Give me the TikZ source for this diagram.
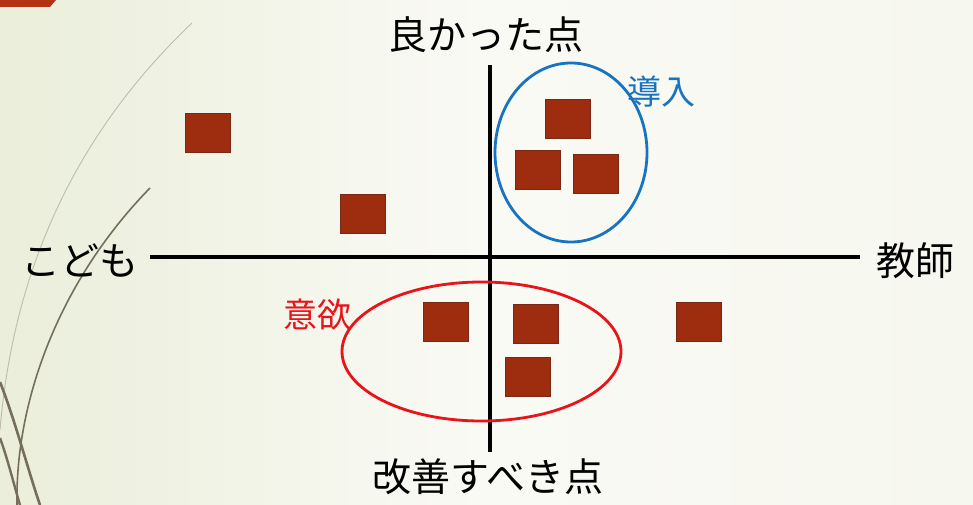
\documentclass[tikz,border=0pt]{standalone}
\usepackage{fontspec}
\setmainfont{Noto Sans CJK JP}
\usetikzlibrary{shapes.geometric}
\definecolor{bgleft}{RGB}{234,238,218}
\definecolor{bgmid}{RGB}{250,250,245}
\definecolor{bgright}{RGB}{246,247,238}
\definecolor{brick}{RGB}{158,45,16}
\definecolor{brickedge}{RGB}{120,40,20}
\definecolor{tabred}{RGB}{180,50,22}
\definecolor{grouppen}{RGB}{24,116,192}
\definecolor{motivred}{RGB}{232,20,26}
\definecolor{swirl}{RGB}{118,110,92}
\definecolor{swirllight}{RGB}{190,188,176}
\begin{document}
\begin{tikzpicture}[x=1pt,y=-1pt,
  sq/.style={draw=brickedge,line width=0.6pt,fill=brick,minimum width=45pt,minimum height=39pt,inner sep=0pt},
  axis/.style={line width=4pt,black},
  axlabel/.style={font=\fontsize{39}{44}\selectfont,inner sep=0pt,text=black},
  grouplabel/.style={font=\fontsize{34}{38}\selectfont,inner sep=0pt},
  ring/.style={ellipse,draw,line width=2.8pt,inner sep=0pt}]
% slide background
\shade[left color=bgleft,right color=bgright,middle color=bgmid] (0,0) rectangle (973,505);
\useasboundingbox (0,0) rectangle (973,505);
% corner tab
\fill[tabred] (0,0) -- (56,0) -- (50,7) -- (0,7) -- cycle;
% decorative strokes on the left
\draw[swirllight,line width=0.9pt] (192,23) .. controls (90,120) and (15,250) .. (0,430);
\draw[swirl,line width=1.6pt] (150,188) .. controls (60,280) and (15,400) .. (17,505);
\draw[swirl,line width=2.6pt] (0,382) .. controls (15,420) and (28,470) .. (40,505);
\draw[swirl,line width=2.4pt] (0,438) .. controls (8,460) and (14,485) .. (20,505);
% axes
\coordinate (xl) at (150,257);
\coordinate (xr) at (860,257);
\coordinate (yt) at (490,65);
\coordinate (yb) at (490,452);
\draw[axis] (xl) -- (xr);
\draw[axis] (yt) -- (yb);
% axis labels
\node[axlabel] (good) at (486,35) {良かった点};
\node[axlabel] (improve) at (488,477) {改善すべき点};
\node[axlabel] (child) at (80,261) {こども};
\node[axlabel] (teacher) at (915,261) {教師};
% items
\node[sq] (s1) at (207.5,133) {};
\node[sq] (s2) at (362.5,214) {};
\node[sq] (s3) at (568,118.5) {};
\node[sq] (s4) at (537.5,169.5) {};
\node[sq] (s5) at (595.5,174) {};
\node[sq] (s6) at (446,321.5) {};
\node[sq] (s7) at (535.5,323.5) {};
\node[sq] (s8) at (528,376.5) {};
\node[sq] (s9) at (698.5,321.5) {};
% groups
\node[ring,draw=grouppen,minimum width=152pt,minimum height=179pt] (intro) at (571,152.5) {};
\node[ring,draw=motivred,minimum width=279pt,minimum height=139pt] (motiv) at (481.5,351.5) {};
\node[grouplabel,text=grouppen] (introlabel) at (661,92) {導入};
\node[grouplabel,text=motivred] (motivlabel) at (317,315) {意欲};
\end{tikzpicture}
\end{document}
